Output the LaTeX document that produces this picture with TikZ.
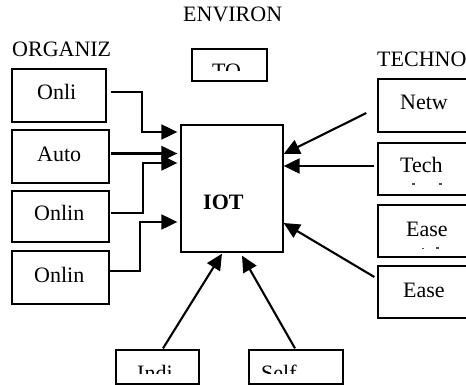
\documentclass[tikz,border=0pt]{standalone}
\usepackage{fontspec}
\setmainfont{Liberation Serif}
\usetikzlibrary{arrows.meta}
\tikzset{
  box/.style={draw=black, line width=1.3pt, fill=white, inner sep=0pt},
  arr/.style={draw=black, line width=2.1pt, -{Triangle[length=16pt,width=15pt]}},
  lbl/.style={anchor=base west, inner sep=0pt, font=\fontsize{22}{24}\selectfont},
  speck/.style={fill=black!70, draw=none},
}
% rectangle node from corner coordinates: #1 name, (#2,#3) top-left, (#4,#5) bottom-right
\newcommand{\rbox}[5]{%
  \node[box, minimum width={(#4-#2)*1pt}, minimum height={(#5-#3)*1pt}]
    (#1) at ({(#2+#4)/2},{(#3+#5)/2}) {};}
\begin{document}
\begin{tikzpicture}[x=1pt,y=-1pt]
  \useasboundingbox (0,0) rectangle (466,385);

  % group headings
  \node[lbl] (henv) at (183,22) {ENVIRON};
  \node[lbl] (horg) at (12,57) {ORGANIZ};
  \node[lbl] (htec) at (377,67) {TECHNO};

  % organizational factors
  \rbox{onli}{12}{69}{106}{122}
  \rbox{auto}{12}{130}{109}{183}
  \rbox{onlinA}{12}{191}{109}{242}
  \rbox{onlinB}{12}{251}{109}{304}
  \node[lbl] (tonli)   at (37,100) {Onli};
  \node[lbl] (tauto)   at (37,162) {Auto};
  \node[lbl] (tonlinA) at (34,220) {Onlin};
  \node[lbl] (tonlinB) at (34,282) {Onlin};

  % environmental factor (text cut by its frame)
  \rbox{to}{192}{49}{267}{81}
  \begin{scope}
    \clip (193,50) rectangle (266,70.5);
    \node[lbl] (tto) at (212,79) {TO};
  \end{scope}

  % central box
  \rbox{iot}{181}{125}{283}{252}
  \node[lbl, font=\fontsize{22}{24}\selectfont\bfseries] (tiot) at (203,209) {IOT};

  % technological factors
  \rbox{netw}{378}{79}{490}{132}
  \rbox{tech}{378}{143}{490}{195}
  \rbox{easeA}{378}{205}{490}{257}
  \rbox{easeB}{378}{266}{490}{318}
  \node[lbl] (tnetw)  at (400,110) {Netw};
  \node[lbl] (ttech)  at (400,173) {Tech};
  \node[lbl] (teaseA) at (406,236) {Ease};
  \node[lbl] (teaseB) at (403,297) {Ease};
  \fill[speck] (412,183) rectangle (414.5,185);
  \fill[speck] (439,183) rectangle (441.5,185);
  \fill[speck] (422,247.5) rectangle (424,249);
  \fill[speck] (436,246.5) rectangle (438.5,248.5);

  % individual factors (text cut by its frame)
  \rbox{indi}{116}{350}{199}{384}
  \rbox{self}{249}{350}{343}{384}
  \begin{scope}
    \clip (117,351) rectangle (342,373.5);
    \node[lbl] (tindi) at (137,380) {Indi};
    \node[lbl] (tself) at (261,380) {Self};
  \end{scope}

  % connectors into the central box (shifts in picture units, y grows downward)
  \draw[arr] ([shift={(4,-3.5)}]onli.east) -| ([shift={(-38,-56.5)}]iot.west) -- ([shift={(-3,-56.5)}]iot.west);
  \draw[arr] ([shift={(1,-3)}]auto.east) -- ([shift={(-3,-35)}]iot.west);
  \draw[arr] ([shift={(1,-3.5)}]onlinA.east) -| ([shift={(-37,-25.5)}]iot.west) -- ([shift={(-3,-25.5)}]iot.west);
  \draw[arr] ([shift={(-2,-6.5)}]onlinB.east) -| ([shift={(-40,33.5)}]iot.west) -- ([shift={(-3,33.5)}]iot.west);

  \draw[arr] ([shift={(-11,7.5)}]netw.west) -- ([shift={(0,-34.5)}]iot.east);
  \draw[arr] ([shift={(-3,-3)}]tech.west) -- ([shift={(0,-22.5)}]iot.east);
  \draw[arr] ([shift={(-3,-15)}]easeB.west) -- ([shift={(0,34.5)}]iot.east);

  \draw[arr] ([shift={(5.5,-1)}]indi.north) -- ([shift={(-10,1)}]iot.south);
  \draw[arr] ([shift={(-1,-1)}]self.north) -- ([shift={(10,3)}]iot.south);
\end{tikzpicture}
\end{document}
